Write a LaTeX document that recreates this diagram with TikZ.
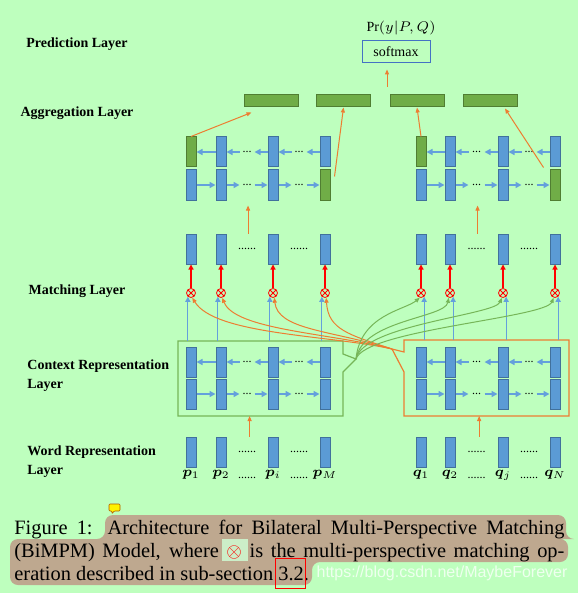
\documentclass[tikz,border=0pt]{standalone}
\usepackage{fontspec}
\setmainfont{Liberation Serif}
\newfontfamily\wmfont{Liberation Sans}
\usepackage{bm}
\usetikzlibrary{arrows.meta,calc}
\definecolor{bggreen}{RGB}{190,255,190}
\definecolor{cellblue}{RGB}{91,155,213}
\definecolor{cellline}{RGB}{65,113,156}
\definecolor{cellgreen}{RGB}{112,173,71}
\definecolor{gline}{RGB}{80,126,50}
\definecolor{arrowblue}{RGB}{100,160,220}
\definecolor{orangeline}{RGB}{237,125,49}
\definecolor{boxgreen}{RGB}{118,182,88}
\definecolor{smblue}{RGB}{68,114,196}
\definecolor{hltan}{RGB}{190,168,143}
\definecolor{hlgreen}{RGB}{204,238,200}
\begin{document}
\begin{tikzpicture}[x=0.5pt,y=-0.5pt,
cell/.style={draw=cellline,fill=cellblue,line width=0.5pt,minimum width=5pt,minimum height=15pt,inner sep=0pt},
gcell/.style={cell,draw=gline,fill=cellgreen},
aggbar/.style={draw=gline,fill=cellgreen,line width=0.5pt,minimum width=27pt,minimum height=6pt,inner sep=0pt},
otimes/.style={circle,draw=red,line width=0.4pt,minimum size=4.5pt,inner sep=0pt,
  path picture={\draw[red,line width=0.4pt] (path picture bounding box.south west) -- (path picture bounding box.north east)
  (path picture bounding box.north west) -- (path picture bounding box.south east);}},
layerlbl/.style={font=\fontsize{7}{9.5}\selectfont\bfseries,align=left,inner sep=0pt},
dotsn/.style={font=\fontsize{6}{6}\selectfont,inner sep=0pt},
wlbl/.style={font=\fontsize{7}{8}\selectfont,inner sep=0pt,anchor=north},
barr/.style={-{Triangle[length=3pt,width=3pt]},draw=arrowblue,line width=0.9pt},
varr/.style={-{Triangle[length=2.5pt,width=2.5pt]},draw=arrowblue,line width=0.6pt},
oarr/.style={-{Triangle[length=2.5pt,width=2pt]},draw=orangeline,line width=0.5pt},
garr/.style={-{Triangle[length=2.5pt,width=2pt]},draw=boxgreen,line width=0.5pt},
rarr/.style={-{Triangle[length=2.5pt,width=2.5pt]},draw=red,line width=0.6pt},
captxt/.style={anchor=north west,inner sep=0pt,text width=275pt,align=justify,
  font=\fontsize{10.2}{11.4}\selectfont}]
\fill[bggreen] (0,0) rectangle (578,593);
\node[layerlbl] (lpred) at (77,44) {Prediction Layer};
\node[layerlbl] (lagg) at (77,113) {Aggregation Layer};
\node[layerlbl] (lmatch) at (77,291) {Matching Layer};
\node[layerlbl,anchor=west] (lctx) at (27,376) {Context Representation\\Layer};
\node[layerlbl,anchor=west] (lword) at (27,462) {Word Representation\\Layer};
\node[font=\fontsize{7}{8}\selectfont,inner sep=0pt] (pr) at (401,28) {$\Pr(y|P,Q)$};
\node[draw=smblue,line width=0.5pt,minimum width=34pt,minimum height=11pt,inner sep=0pt,font=\fontsize{7}{8}\selectfont] (sm) at (396,52) {softmax};
\node[aggbar] (ag1) at (271,101) {};
\node[aggbar] (ag2) at (343.5,101) {};
\node[aggbar] (ag3) at (417,101) {};
\node[aggbar] (ag4) at (490,101) {};
\coordinate (smin) at (387,87);
\draw[oarr,shorten >=3pt] (smin) -- (smin |- sm.south);
\draw[boxgreen,line width=0.6pt] (178,341) coordinate (ptl) -- (343,341) -- (343,354) -- (356,359) coordinate (ptip)
  -- (343,372) -- (343,416) -- (178,416) coordinate (pbl) -- cycle;
\draw[orangeline,line width=0.6pt] (404,340) coordinate (qtl) -- (569,340) -- (569,416) -- (404,416) coordinate (qbl)
  -- (404,372) -- (392,349) coordinate (qtip) -- (404,352) -- cycle;
\foreach \s/\xa/\xb/\xc/\xd/\ang in {p/191/221/273/325/-130,q/421/450/503/555/-50} {
  \foreach \i/\x/\bst/\fst in {1/\xa/gcell/cell,2/\xb/cell/cell,3/\xc/cell/cell,4/\xd/cell/gcell} {
    \node[\bst] (\s b\i) at (\x,152) {};
    \node[\fst] (\s f\i) at (\x,185) {};
    \node[cell] (\s m\i) at (\x,249) {};
    \node[otimes] (\s x\i) at (\x,293) {};
    \node[cell] (\s u\i) at (\x,362) {};
    \node[cell] (\s d\i) at (\x,394) {};
    \node[cell] (\s w\i) at (\x,452) {};
    \draw[rarr] (\s x\i.north) -- (\s m\i.south);
    \draw[varr] (\s x\i.\ang |- \s tl) -- (\s x\i.\ang);
  }
  \foreach \a/\b in {2/3,3/4} {
    \node[dotsn] (\s bd\a) at ($(\s b\a)!0.5!(\s b\b)$) {...};
    \node[dotsn] (\s fd\a) at ($(\s f\a)!0.5!(\s f\b)$) {...};
    \node[dotsn] (\s ud\a) at ($(\s u\a)!0.5!(\s u\b)$) {...};
    \node[dotsn] (\s dd\a) at ($(\s d\a)!0.5!(\s d\b)$) {...};
    \node[dotsn] (\s md\a) at ($(\s m\a)!0.5!(\s m\b)$) {......};
    \node[dotsn] (\s wd\a) at ($(\s w\a)!0.5!(\s w\b)$) {......};
    \node[dotsn] (\s ld\a) at ($(\s w\a.south)!0.5!(\s w\b.south)+(0,10)$) {......};
    \draw[barr] (\s b\b.west) -- ++(-13,0);
    \draw[barr] ($(\s b\a.east)+(13,0)$) -- (\s b\a.east);
    \draw[barr] (\s f\a.east) -- ++(13,0);
    \draw[barr] ($(\s f\b.west)+(-13,0)$) -- (\s f\b.west);
    \draw[barr] (\s u\b.west) -- ++(-13,0);
    \draw[barr] ($(\s u\a.east)+(13,0)$) -- (\s u\a.east);
    \draw[barr] (\s d\a.east) -- ++(13,0);
    \draw[barr] ($(\s d\b.west)+(-13,0)$) -- (\s d\b.west);
  }
  \draw[barr] (\s b2.west) -- (\s b1.east);
  \draw[barr] (\s f1.east) -- (\s f2.west);
  \draw[barr] (\s u2.west) -- (\s u1.east);
  \draw[barr] (\s d1.east) -- (\s d2.west);
  \coordinate (\s mid) at ($(\s m2.north)!0.52!(\s m3.north)$);
  \draw[oarr,shorten >=2.5pt] (\s mid) -- (\s mid |- \s f2.south);
  \coordinate (\s wmid) at ($(\s w2.north)!0.55!(\s w3.north)$);
  \draw[oarr] (\s wmid) -- (\s wmid |- \s bl);
}
\foreach \s/\i/\sub in {p/1/1,p/2/2,p/3/i,p/4/M,q/1/1,q/2/2,q/3/j,q/4/N}
  \node[wlbl] (\s l\i) at ([yshift=-1pt]\s w\i.south) {$\bm{\s}_{\sub}$};
\draw[oarr] (pb1.north) -- ($(ag1.south west)+(8,5)$);
\draw[oarr] ($(pf4.north east)+(4,7)$) -- (ag2.south);
\draw[oarr] (qb1.north) -- (ag3.south);
\draw[oarr] ($(qf4.north west)+(-6,-2)$) -- ($(ag4.south)+(15,1)$);
\draw[oarr] (qtip) .. controls (330,335) and (215,335) .. (px1.-75);
\draw[oarr] (qtip) .. controls (330,333) and (235,330) .. (px2.-75);
\draw[oarr] (qtip) .. controls (330,330) and (278,330) .. (px3.-75);
\draw[oarr] (qtip) .. controls (350,335) and (328,330) .. (px4.-75);
\draw[garr] (ptip) .. controls (360,315) and (405,310) .. (qx1.-105);
\draw[garr] (ptip) .. controls (362,320) and (445,318) .. (qx2.-105);
\draw[garr] (ptip) .. controls (362,325) and (495,315) .. (qx3.-105);
\draw[garr] (ptip) .. controls (365,330) and (545,318) .. (qx4.-105);
\fill[hltan,rounded corners=4] (105,515) -- (566,515) -- (566,539) -- (568,539) -- (568,562) -- (312,562)
  -- (312,585) -- (10,585) -- (10,539) -- (105,539) -- cycle;
\fill[hlgreen] (222,539) rectangle (248,561);
\draw[fill=yellow,draw=orange!70!black,line width=0.3pt,rounded corners=0.5pt] (109,504) -- (120,504) -- (120,511)
  -- (114,511) -- (112,514) -- (112,511) -- (109,511) -- cycle;
\node[captxt] (cap) at (14,520) {\hyphenpenalty=10000 \tolerance=10000 \hbadness=10000
  Figure 1: Architecture for Bilateral Multi-Perspective Matching\linebreak
  (BiMPM) Model, where {\color{red}$\otimes$} is the multi-perspective matching op-\linebreak
  eration described in sub-section 3.2.};
\draw[red,line width=0.5pt] (275,558) rectangle (305,588);
\node[font=\fontsize{8}{8}\wmfont,text=white,opacity=0.75,inner sep=0pt] (wm) at (442,573) {https://blog.csdn.net/MaybeForever};
\end{tikzpicture}
\end{document}
